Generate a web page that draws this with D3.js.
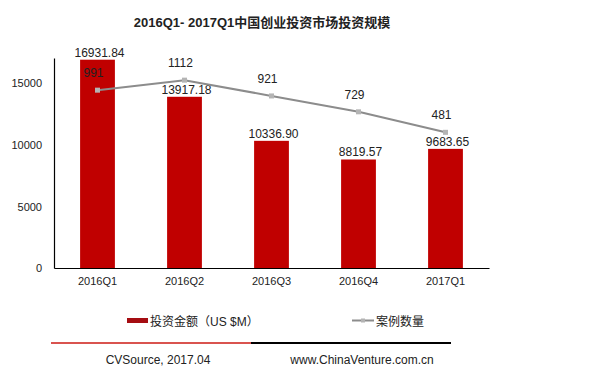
<!DOCTYPE html>
<html>
<head>
<meta charset="utf-8">
<script src="https://cdn.jsdelivr.net/npm/d3@7"></script>
<style>
  body { margin: 0; background: #fff; }
  text { font-family: "Liberation Sans", Arial, "Noto Sans CJK SC", sans-serif; fill: #222; }
  .cjk { font-family: "Liberation Sans", "Noto Sans CJK SC", sans-serif; }
</style>
</head>
<body>
<div id="chart"></div>
<script>
// Data
// ==============================
var quarters = ["2016Q1", "2016Q2", "2016Q3", "2016Q4", "2017Q1"];
var amounts = [16931.84, 13917.18, 10336.90, 8819.57, 9683.65];
var amountLabels = ["16931.84", "13917.18", "10336.90", "8819.57", "9683.65"];
var cases = [991, 1112, 921, 729, 481];
var yTicks = [0, 5000, 10000, 15000];

var svgWidth = 610;
var svgHeight = 374;

var margin = { top: 58, left: 54, right: 121, bottom: 106 };
var width = svgWidth - margin.left - margin.right;   // 435
var height = svgHeight - margin.top - margin.bottom; // 210

var svg = d3.select("#chart")
  .append("svg")
  .attr("width", svgWidth)
  .attr("height", svgHeight);

// Title
svg.append("text")
  .attr("class", "cjk")
  .attr("x", 262)
  .attr("y", 27)
  .attr("text-anchor", "middle")
  .attr("font-size", "13px")
  .attr("font-weight", "bold")
  .text("2016Q1- 2017Q1中国创业投资市场投资规模");

var chartGroup = svg.append("g")
  .attr("transform", `translate(${margin.left}, ${margin.top})`);

// Scales
// ==============================
var xScale = d3.scaleBand()
  .domain(quarters)
  .range([0, width])
  .paddingInner(0.6)
  .paddingOuter(0.3);

var yScale = d3.scaleLinear()
  .domain([0, 17070])
  .range([height, 0]);

// hidden secondary axis for the case count line
var y2Scale = d3.scaleLinear()
  .domain([-1160, 1380])
  .range([height, 0]);

// Axes
// ==============================
var leftAxis = d3.axisLeft(yScale).tickValues(yTicks).tickSize(0).tickPadding(12).tickFormat(d3.format("d"));
var yAxisG = chartGroup.append("g").call(leftAxis);
yAxisG.select(".domain").attr("stroke", "#000").attr("stroke-width", 1.2);
yAxisG.selectAll("text").attr("font-size", "11px").attr("fill", "#222")
  .style("font-family", "'Liberation Sans', Arial, sans-serif");

// Bars
chartGroup.selectAll("rect.bar")
  .data(amounts)
  .enter()
  .append("rect")
  .attr("class", "bar")
  .attr("x", (d, i) => xScale(quarters[i]))
  .attr("y", d => yScale(d))
  .attr("width", xScale.bandwidth())
  .attr("height", d => height - yScale(d))
  .attr("fill", "#c00000");

var bottomAxis = d3.axisBottom(xScale).tickSize(0).tickPadding(9);
var xAxisG = chartGroup.append("g")
  .attr("transform", `translate(0, ${height})`)
  .call(bottomAxis);
xAxisG.select(".domain").attr("stroke", "#000").attr("stroke-width", 1.2);
xAxisG.selectAll("text").attr("font-size", "11px").attr("fill", "#222")
  .style("font-family", "'Liberation Sans', Arial, sans-serif");

// Bar labels
chartGroup.selectAll("text.barLabel")
  .data(amounts)
  .enter()
  .append("text")
  .attr("class", "barLabel")
  .attr("x", (d, i) => xScale(quarters[i]) + xScale.bandwidth() / 2 + 2)
  .attr("y", d => yScale(d) - 3)
  .attr("text-anchor", "middle")
  .attr("font-size", "12px")
  .text((d, i) => amountLabels[i]);

// Line
// ==============================
var line = d3.line()
  .x((d, i) => xScale(quarters[i]) + xScale.bandwidth() / 2)
  .y(d => y2Scale(d));

chartGroup.append("path")
  .datum(cases)
  .attr("d", line)
  .attr("fill", "none")
  .attr("stroke", "#8c8c8c")
  .attr("stroke-width", 2);

chartGroup.selectAll("rect.marker")
  .data(cases)
  .enter()
  .append("rect")
  .attr("class", "marker")
  .attr("x", (d, i) => xScale(quarters[i]) + xScale.bandwidth() / 2 - 2.5)
  .attr("y", d => y2Scale(d) - 2.5)
  .attr("width", 5)
  .attr("height", 5)
  .attr("fill", "#b4b4b4");

chartGroup.selectAll("text.caseLabel")
  .data(cases)
  .enter()
  .append("text")
  .attr("class", "caseLabel")
  .attr("x", (d, i) => xScale(quarters[i]) + xScale.bandwidth() / 2 - 4)
  .attr("y", d => y2Scale(d) - 13)
  .attr("text-anchor", "middle")
  .attr("font-size", "12px")
  .attr("fill", (d, i) => i === 0 ? "#6b1010" : "#222")
  .text(d => d);

// Legend
// ==============================
var legend = svg.append("g");
legend.append("rect")
  .attr("x", 127).attr("y", 318)
  .attr("width", 21).attr("height", 5)
  .attr("fill", "#a50d12");
legend.append("text")
  .attr("class", "cjk")
  .attr("x", 150).attr("y", 326)
  .attr("font-size", "12px")
  .text("投资金额（US $M）");

legend.append("line")
  .attr("x1", 352).attr("x2", 374)
  .attr("y1", 320.5).attr("y2", 320.5)
  .attr("stroke", "#8c8c8c").attr("stroke-width", 2);
legend.append("rect")
  .attr("x", 361).attr("y", 318.5)
  .attr("width", 4).attr("height", 4)
  .attr("fill", "#b4b4b4");
legend.append("text")
  .attr("class", "cjk")
  .attr("x", 376).attr("y", 326)
  .attr("font-size", "12px")
  .text("案例数量");

// Footer rule and source text
svg.append("line")
  .attr("x1", 51).attr("x2", 251)
  .attr("y1", 343).attr("y2", 343)
  .attr("stroke", "#d9534f").attr("stroke-width", 2);
svg.append("line")
  .attr("x1", 251).attr("x2", 451)
  .attr("y1", 343).attr("y2", 343)
  .attr("stroke", "#000").attr("stroke-width", 2);

svg.append("text")
  .attr("x", 158).attr("y", 364)
  .attr("text-anchor", "middle")
  .attr("font-size", "12px")
  .text("CVSource, 2017.04");
svg.append("text")
  .attr("x", 362).attr("y", 364)
  .attr("text-anchor", "middle")
  .attr("font-size", "12px")
  .text("www.ChinaVenture.com.cn");
</script>
</body>
</html>
